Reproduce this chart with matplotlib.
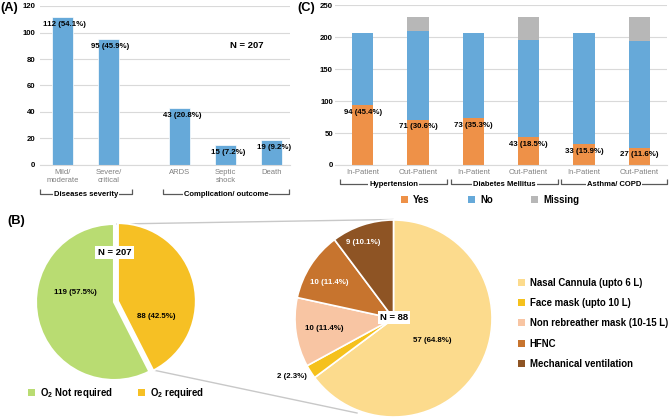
import matplotlib
matplotlib.use('Agg')
import matplotlib.pyplot as plt

plt.rcParams['font.family'] = ['Liberation Sans', 'DejaVu Sans']
plt.rcParams['mathtext.fontset'] = 'custom'
plt.rcParams['mathtext.rm'] = 'Liberation Sans'
plt.rcParams['mathtext.bf'] = 'Liberation Sans:bold'

# ---------------- data ----------------
# Panel A
a_categories = ['Mild/\nmoderate', 'Severe/\ncritical', 'ARDS', 'Septic\nshock', 'Death']
a_counts = [112, 95, 43, 15, 19]
a_percents = [54.1, 45.9, 20.8, 7.2, 9.2]
a_groups = ['Diseases severity', 'Complication/ outcome']
a_total_text = 'N = 207'

# Panel C
c_categories = ['In-Patient', 'Out-Patient', 'In-Patient', 'Out-Patient', 'In-Patient', 'Out-Patient']
c_groups = ['Hypertension', 'Diabetes Mellitus', 'Asthma/ COPD']
c_yes = [94, 71, 73, 43, 33, 27]
c_no = [113, 138, 134, 153, 174, 166]
c_missing = [0, 23, 0, 36, 0, 39]
c_yes_pct = [45.4, 30.6, 35.3, 18.5, 15.9, 11.6]
c_series = ['Yes', 'No', 'Missing']
c_yticks = [0, 50, 100, 150, 200, 250]

# Panel B
b_labels = ['O$_\\mathbf{2}$ required', 'O$_\\mathbf{2}$ Not required']
b_counts = [88, 119]
b_pct = [42.5, 57.5]
b_total_text = 'N = 207'
o2_labels = ['Nasal Cannula (upto 6 L)', 'Face mask (upto 10 L)',
             'Non rebreather mask (10-15 L)', 'HFNC', 'Mechanical ventilation']
o2_counts = [57, 2, 10, 10, 9]
o2_pct = [64.8, 2.3, 11.4, 11.4, 10.1]
o2_total_text = 'N = 88'

# ---------------- styles ----------------
BLUE = '#66A9D9'
ORANGE = '#EE9148'
GRAY = '#B7B7B7'
GREEN = '#B9DC72'
GOLD = '#F6C024'
O2_COLORS = ['#FCDB8D', '#F5C11C', '#F8C5A3', '#C7742E', '#8E5424']
GRID = '#D9D9D9'
TICKGRAY = '#808080'
BRACKET = '#595959'

W, H = 670, 420
fig = plt.figure(figsize=(W / 100, H / 100), dpi=100)
fig.patch.set_facecolor('white')


def px_axes(l, t, r, b):
    return fig.add_axes([l / W, 1 - b / H, (r - l) / W, (b - t) / H])


def style_bar_axes(ax, ypad):
    ax.set_axisbelow(True)
    ax.yaxis.grid(True, color=GRID, lw=0.8)
    for s in ['left', 'right', 'top']:
        ax.spines[s].set_visible(False)
    ax.spines['bottom'].set_color(GRID)
    ax.spines['bottom'].set_linewidth(0.8)
    ax.tick_params(axis='y', length=0, pad=ypad, labelsize=5.6)
    ax.tick_params(axis='x', length=0, pad=3.2, labelsize=5.5, labelcolor=TICKGRAY)
    for t in ax.get_yticklabels():
        t.set_fontweight('bold')
    ax.set_facecolor('none')


# ---------------- Panel A ----------------
axA = px_axes(40, 6, 290, 165)
xA = [0, 1, 2.55, 3.55, 4.55]
axA.bar(xA, a_counts, width=0.46, color=BLUE, edgecolor='white', linewidth=0.5)
axA.set_xlim(-0.49, 4.95)
axA.set_ylim(0, 120)
axA.set_yticks(range(0, 121, 20))
axA.set_xticks(xA)
axA.set_xticklabels(a_categories, linespacing=1.15)
style_bar_axes(axA, 3.6)
for x, c, p in zip(xA, a_counts, a_percents):
    axA.annotate(f'{c} ({p}%)', (x, c), xytext=(1.5, -5.5), textcoords='offset points',
                 ha='center', va='center', fontsize=5.7, fontweight='bold')

# ---------------- Panel C ----------------
axC = px_axes(335, 5, 667, 165)
xC = list(range(len(c_categories)))
bottom_no = c_yes
bottom_missing = [y + n for y, n in zip(c_yes, c_no)]
b1 = axC.bar(xC, c_yes, width=0.39, color=ORANGE, label=c_series[0])
b2 = axC.bar(xC, c_no, width=0.39, bottom=bottom_no, color=BLUE, label=c_series[1])
b3 = axC.bar(xC, c_missing, width=0.39, bottom=bottom_missing, color=GRAY, label=c_series[2])
axC.set_xlim(-0.5, 5.5)
axC.set_ylim(0, 250)
axC.set_yticks(c_yticks)
axC.set_xticks(xC)
axC.set_xticklabels(c_categories)
style_bar_axes(axC, 1.5)
for x, c, p in zip(xC, c_yes, c_yes_pct):
    axC.annotate(f'{c} ({p}%)', (x, c), xytext=(0, -5.2), textcoords='offset points',
                 ha='center', va='center', fontsize=5.7, fontweight='bold')
legC = fig.legend(handles=[b1, b2, b3], labels=c_series, ncol=3, loc='center',
                  bbox_to_anchor=(490 / W, 1 - 200 / H), frameon=False,
                  handlelength=0.75, handleheight=0.75, handletextpad=0.5,
                  columnspacing=4.0, borderpad=0,
                  prop={'weight': 'bold', 'size': 6.9})

# ---------------- Overlay (pixel coordinates) for panel B & annotations ----------------
axP = fig.add_axes([0, 0, 1, 1])
axP.patch.set_visible(False)

# connectors between pies
axP.plot([117, 393], [H - 224, H - 219.5], color='#C8C8C8', lw=1.0, zorder=0)
axP.plot([153, 357], [H - 370, H - 413], color='#C8C8C8', lw=1.0, zorder=0)

wB, _ = axP.pie(b_counts, colors=[GOLD, GREEN], startangle=90, counterclock=False,
                center=(114, H - 302), radius=78, explode=[4, 0],
                wedgeprops=dict(edgecolor='white', linewidth=1.5))
wO, _ = axP.pie(o2_counts, colors=O2_COLORS, startangle=90, counterclock=False,
                center=(393.5, H - 318.5), radius=98.5,
                wedgeprops=dict(edgecolor='white', linewidth=1.2))
for w in list(wB) + list(wO):
    w.set_zorder(2)

axP.set_aspect('auto')
axP.set_xlim(0, W)
axP.set_ylim(0, H)
axP.axis('off')

# pie labels
b_label_pos = [(156, 316), (75.5, 292)]
for (x, y), c, p in zip(b_label_pos, b_counts, b_pct):
    axP.text(x, H - y, f'{c} ({p}%)', ha='center', va='center', fontsize=5.7,
             fontweight='bold', zorder=5)
o2_label_pos = [(432, 340, 'center', 'black'), (307, 377, 'right', 'black'),
                (324, 328, 'center', 'black'), (329, 283, 'center', 'white'),
                (363, 243, 'center', 'white')]
for (x, y, ha, col), c, p in zip(o2_label_pos, o2_counts, o2_pct):
    axP.text(x, H - y, f'{c} ({p}%)', ha=ha, va='center', fontsize=5.7,
             fontweight='bold', color=col, zorder=5)

boxkw = dict(facecolor='white', edgecolor='none', boxstyle='square,pad=0.25')
axP.text(114.5, H - 252.5, b_total_text, ha='center', va='center', fontsize=6.8,
         fontweight='bold', bbox=boxkw, zorder=6)
axP.text(394, H - 317.5, o2_total_text, ha='center', va='center', fontsize=6.8,
         fontweight='bold', bbox=boxkw, zorder=6)

# legends for panel B
legB = fig.legend(handles=[wB[1], wB[0]], labels=[b_labels[1], b_labels[0]], ncol=2,
                  loc='center', bbox_to_anchor=(116 / W, 1 - 393 / H), frameon=False,
                  handlelength=0.75, handleheight=0.75, handletextpad=0.5,
                  columnspacing=2.7, borderpad=0,
                  prop={'weight': 'bold', 'size': 6.9})
legO = fig.legend(handles=list(wO), labels=o2_labels, loc='upper left',
                  bbox_to_anchor=(518 / W, 1 - 277.5 / H), frameon=False,
                  handlelength=0.75, handleheight=0.75, handletextpad=0.45,
                  labelspacing=1.08, borderpad=0, borderaxespad=0,
                  prop={'weight': 'bold', 'size': 6.9})
for leg in (legB, legO):
    for h in leg.legend_handles:
        h.set_edgecolor('none')

# N = 207 text in panel A
axP.text(247, H - 45, a_total_text, ha='center', va='center', fontsize=6.8, fontweight='bold')

# group brackets (pixel layout)
a_brackets = [(40, 132, 194), (163, 289, 194)]
c_brackets = [(340, 447, 184), (451, 558, 184), (561, 667, 184)]
for (x0, x1, y), label in list(zip(a_brackets, a_groups)) + list(zip(c_brackets, c_groups)):
    axP.plot([x0, x0, x1, x1], [H - y + 5, H - y, H - y, H - y + 5], color=BRACKET,
             lw=0.9, solid_capstyle='butt', zorder=3)
    axP.text((x0 + x1) / 2, H - y, label, ha='center', va='center', fontsize=5.5,
             fontweight='bold', zorder=4,
             bbox=dict(facecolor='white', edgecolor='none', boxstyle='square,pad=0.15'))

# panel letters
for (x, y), lab in zip([(0, 8), (7, 221), (297, 8)], ['(A)', '(B)', '(C)']):
    axP.text(x, H - y, lab, ha='left', va='center', fontsize=9.3, fontweight='bold')

fig.savefig('out.png', dpi=100, facecolor='white')
